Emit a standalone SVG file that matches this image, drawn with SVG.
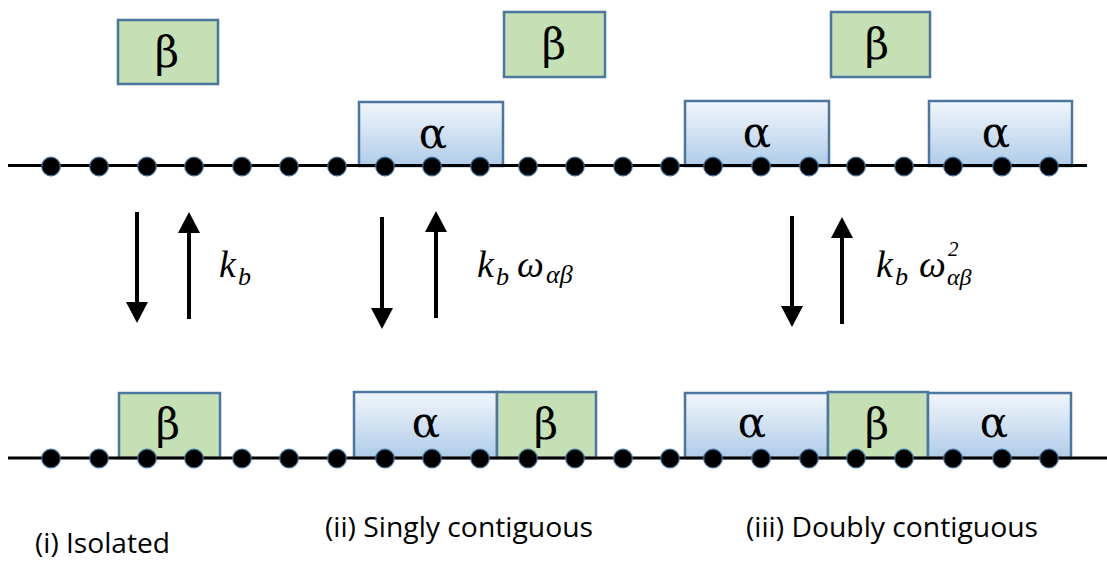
<svg xmlns="http://www.w3.org/2000/svg" width="1107" height="563" viewBox="0 0 1107 563">
<style>
.a{fill:url(#ga);stroke:#4A76A0;stroke-width:2.5}
.b{fill:#C5E0B4;stroke:#4A76A0;stroke-width:2.5}
.g{font-family:"DejaVu Serif","Liberation Serif",serif;font-size:42px;fill:#000;text-anchor:middle}
.chain{stroke:#000;stroke-width:3}
.dot{fill:#000;stroke:#41719C;stroke-width:1.2}
.arr{stroke:#000;stroke-width:4;fill:none}
.m{font-family:"Liberation Serif",serif;font-style:italic;fill:#000}
.lab{font-family:"Open Sans","Liberation Sans",sans-serif;font-size:27px;fill:#000}
</style>
<defs>
<linearGradient id="ga" x1="0" y1="0" x2="0" y2="1">
<stop offset="0" stop-color="#F2F6FB"/>
<stop offset="1" stop-color="#AFCCE9"/>
</linearGradient>
<marker id="ah" markerUnits="userSpaceOnUse" markerWidth="22" markerHeight="24" refX="2" refY="11" orient="auto">
<path d="M0,0 L21,11 L0,22 Z" fill="#000"/>
</marker>
<g id="dots">
<circle class="dot" cx="51" cy="0" r="9.3"/><circle class="dot" cx="99" cy="0" r="9.3"/><circle class="dot" cx="147" cy="0" r="9.3"/><circle class="dot" cx="194" cy="0" r="9.3"/><circle class="dot" cx="242" cy="0" r="9.3"/><circle class="dot" cx="289" cy="0" r="9.3"/><circle class="dot" cx="337" cy="0" r="9.3"/><circle class="dot" cx="385" cy="0" r="9.3"/><circle class="dot" cx="432" cy="0" r="9.3"/><circle class="dot" cx="480" cy="0" r="9.3"/><circle class="dot" cx="528" cy="0" r="9.3"/><circle class="dot" cx="575" cy="0" r="9.3"/><circle class="dot" cx="623" cy="0" r="9.3"/><circle class="dot" cx="670" cy="0" r="9.3"/><circle class="dot" cx="713" cy="0" r="9.3"/><circle class="dot" cx="761" cy="0" r="9.3"/><circle class="dot" cx="809" cy="0" r="9.3"/><circle class="dot" cx="856" cy="0" r="9.3"/><circle class="dot" cx="904" cy="0" r="9.3"/><circle class="dot" cx="953" cy="0" r="9.3"/><circle class="dot" cx="1002" cy="0" r="9.3"/><circle class="dot" cx="1049" cy="0" r="9.3"/>
</g>
</defs>
<rect width="1107" height="563" fill="#fff"/>

<!-- top row -->
<g id="top-beta-1"><rect class="b" x="118" y="20" width="100" height="64"/><text class="g" x="167" y="67">β</text></g>
<g id="top-beta-2"><rect class="b" x="504" y="12" width="101" height="65"/><text class="g" x="554" y="59">β</text></g>
<g id="top-beta-3"><rect class="b" x="831" y="12" width="99" height="65"/><text class="g" x="877" y="59">β</text></g>
<g id="top-alpha-2"><rect class="a" x="359" y="102" width="144" height="64"/><text class="g" x="433" y="148">α</text></g>
<g id="top-alpha-3a"><rect class="a" x="685" y="101" width="144" height="65"/><text class="g" x="757" y="147">α</text></g>
<g id="top-alpha-3b"><rect class="a" x="929" y="101" width="143" height="65"/><text class="g" x="996" y="147">α</text></g>
<g id="top-chain">
<line class="chain" x1="8" y1="165.5" x2="1087" y2="165.5"/>
<use href="#dots" y="166.5"/>
</g>

<!-- bottom row -->
<g id="bot-beta-1"><rect class="b" x="119" y="393" width="101" height="65"/><text class="g" x="168" y="439">β</text></g>
<g id="bot-alpha-2"><rect class="a" x="354" y="392" width="143" height="66"/><text class="g" x="426" y="437">α</text></g>
<g id="bot-beta-2"><rect class="b" x="497" y="392" width="99" height="66"/><text class="g" x="546" y="439">β</text></g>
<g id="bot-alpha-3a"><rect class="a" x="685" y="393" width="143" height="65"/><text class="g" x="752" y="437">α</text></g>
<g id="bot-beta-3"><rect class="b" x="828" y="392" width="100" height="66"/><text class="g" x="877" y="439">β</text></g>
<g id="bot-alpha-3b"><rect class="a" x="928" y="393" width="143" height="65"/><text class="g" x="994" y="437">α</text></g>
<g id="bot-chain">
<line class="chain" x1="8" y1="458" x2="1107" y2="458"/>
<use href="#dots" y="458.5"/>
</g>

<!-- connectors -->
<g id="connectors">
<line class="arr" x1="137" y1="212" x2="137" y2="304" marker-end="url(#ah)"/>
<line class="arr" x1="189" y1="319" x2="189" y2="231" marker-end="url(#ah)"/>
<line class="arr" x1="382" y1="217" x2="382" y2="310" marker-end="url(#ah)"/>
<line class="arr" x1="436" y1="318" x2="436" y2="230" marker-end="url(#ah)"/>
<line class="arr" x1="792" y1="216" x2="792" y2="308" marker-end="url(#ah)"/>
<line class="arr" x1="842" y1="324" x2="842" y2="236" marker-end="url(#ah)"/>
</g>

<!-- rate labels -->
<g id="rate-1">
<text class="m" x="219" y="277" font-size="38">k</text><text class="m" x="238" y="285" font-size="26">b</text>
</g>
<g id="rate-2">
<text class="m" x="477" y="277" font-size="38">k</text><text class="m" x="496" y="285" font-size="26">b</text>
<text class="m" x="517" y="277" font-size="38">ω</text><text class="m" x="546" y="283" font-size="26">αβ</text>
</g>
<g id="rate-3">
<text class="m" x="876" y="277" font-size="38">k</text><text class="m" x="895" y="285" font-size="26">b</text>
<text class="m" x="919" y="277" font-size="38">ω</text><text class="m" x="948" y="256" font-size="21">2</text><text class="m" x="947" y="285" font-size="24">αβ</text>
</g>

<!-- captions -->
<g id="captions">
<text class="lab" x="35" y="553" textLength="135" lengthAdjust="spacingAndGlyphs">(i) Isolated</text>
<text class="lab" x="325" y="537" textLength="268" lengthAdjust="spacingAndGlyphs">(ii) Singly contiguous</text>
<text class="lab" x="746" y="537" textLength="292" lengthAdjust="spacingAndGlyphs">(iii) Doubly contiguous</text>
</g>
</svg>
